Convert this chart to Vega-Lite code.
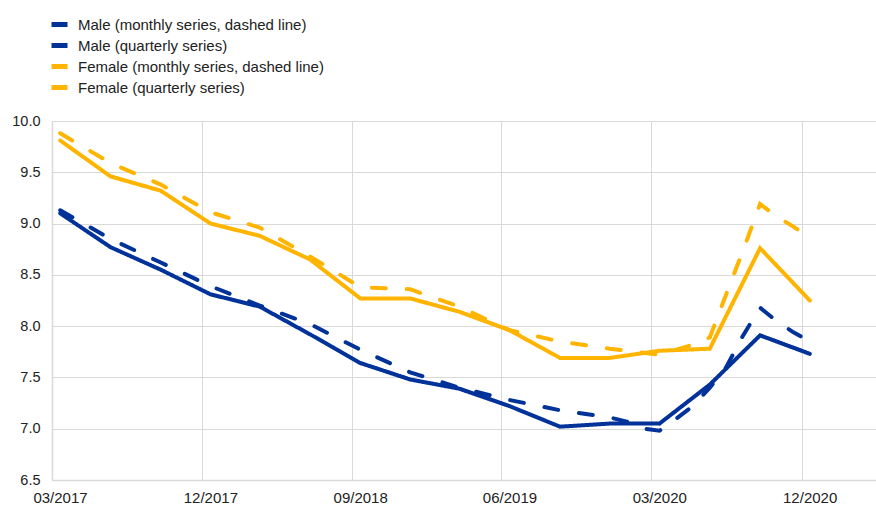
{
  "$schema": "https://vega.github.io/schema/vega-lite/v6.json",
  "width": 824,
  "height": 359,
  "autosize": {"type": "none"},
  "padding": {"left": 52, "top": 121, "right": 0, "bottom": 26},
  "background": "white",
  "config": {"view": {"stroke": null}, "font": "Liberation Sans"},
  "data": {
    "format": {"parse": {"date": "utc:'%Y-%m-%d'"}},
    "values": [
      {"date": "2017-03-16", "series": "Male (quarterly series)", "line": "solid", "value": 9.10},
      {"date": "2017-06-16", "series": "Male (quarterly series)", "line": "solid", "value": 8.77},
      {"date": "2017-09-16", "series": "Male (quarterly series)", "line": "solid", "value": 8.55},
      {"date": "2017-12-16", "series": "Male (quarterly series)", "line": "solid", "value": 8.31},
      {"date": "2018-03-16", "series": "Male (quarterly series)", "line": "solid", "value": 8.19},
      {"date": "2018-06-16", "series": "Male (quarterly series)", "line": "solid", "value": 7.92},
      {"date": "2018-09-16", "series": "Male (quarterly series)", "line": "solid", "value": 7.64},
      {"date": "2018-12-16", "series": "Male (quarterly series)", "line": "solid", "value": 7.48},
      {"date": "2019-03-16", "series": "Male (quarterly series)", "line": "solid", "value": 7.39},
      {"date": "2019-06-16", "series": "Male (quarterly series)", "line": "solid", "value": 7.22},
      {"date": "2019-09-16", "series": "Male (quarterly series)", "line": "solid", "value": 7.02},
      {"date": "2019-12-16", "series": "Male (quarterly series)", "line": "solid", "value": 7.05},
      {"date": "2020-03-16", "series": "Male (quarterly series)", "line": "solid", "value": 7.05},
      {"date": "2020-06-16", "series": "Male (quarterly series)", "line": "solid", "value": 7.43},
      {"date": "2020-09-16", "series": "Male (quarterly series)", "line": "solid", "value": 7.91},
      {"date": "2020-12-16", "series": "Male (quarterly series)", "line": "solid", "value": 7.73},

      {"date": "2017-03-16", "series": "Female (quarterly series)", "line": "solid", "value": 9.81},
      {"date": "2017-06-16", "series": "Female (quarterly series)", "line": "solid", "value": 9.46},
      {"date": "2017-09-16", "series": "Female (quarterly series)", "line": "solid", "value": 9.32},
      {"date": "2017-12-16", "series": "Female (quarterly series)", "line": "solid", "value": 9.00},
      {"date": "2018-03-16", "series": "Female (quarterly series)", "line": "solid", "value": 8.88},
      {"date": "2018-06-16", "series": "Female (quarterly series)", "line": "solid", "value": 8.65},
      {"date": "2018-09-16", "series": "Female (quarterly series)", "line": "solid", "value": 8.27},
      {"date": "2018-12-16", "series": "Female (quarterly series)", "line": "solid", "value": 8.27},
      {"date": "2019-03-16", "series": "Female (quarterly series)", "line": "solid", "value": 8.14},
      {"date": "2019-06-16", "series": "Female (quarterly series)", "line": "solid", "value": 7.96},
      {"date": "2019-09-16", "series": "Female (quarterly series)", "line": "solid", "value": 7.69},
      {"date": "2019-12-16", "series": "Female (quarterly series)", "line": "solid", "value": 7.69},
      {"date": "2020-03-16", "series": "Female (quarterly series)", "line": "solid", "value": 7.76},
      {"date": "2020-06-16", "series": "Female (quarterly series)", "line": "solid", "value": 7.78},
      {"date": "2020-09-16", "series": "Female (quarterly series)", "line": "solid", "value": 8.76},
      {"date": "2020-12-16", "series": "Female (quarterly series)", "line": "solid", "value": 8.25},

      {"date": "2017-03-16", "series": "Male (monthly series, dashed line)", "line": "dashed", "value": 9.13},
      {"date": "2017-06-16", "series": "Male (monthly series, dashed line)", "line": "dashed", "value": 8.85},
      {"date": "2017-09-16", "series": "Male (monthly series, dashed line)", "line": "dashed", "value": 8.62},
      {"date": "2017-12-16", "series": "Male (monthly series, dashed line)", "line": "dashed", "value": 8.39},
      {"date": "2018-03-16", "series": "Male (monthly series, dashed line)", "line": "dashed", "value": 8.20},
      {"date": "2018-06-16", "series": "Male (monthly series, dashed line)", "line": "dashed", "value": 8.02},
      {"date": "2018-09-16", "series": "Male (monthly series, dashed line)", "line": "dashed", "value": 7.77},
      {"date": "2018-12-16", "series": "Male (monthly series, dashed line)", "line": "dashed", "value": 7.55},
      {"date": "2019-03-16", "series": "Male (monthly series, dashed line)", "line": "dashed", "value": 7.40},
      {"date": "2019-06-16", "series": "Male (monthly series, dashed line)", "line": "dashed", "value": 7.28},
      {"date": "2019-09-16", "series": "Male (monthly series, dashed line)", "line": "dashed", "value": 7.18},
      {"date": "2019-12-16", "series": "Male (monthly series, dashed line)", "line": "dashed", "value": 7.11},
      {"date": "2020-01-16", "series": "Male (monthly series, dashed line)", "line": "dashed", "value": 7.07},
      {"date": "2020-02-16", "series": "Male (monthly series, dashed line)", "line": "dashed", "value": 7.00},
      {"date": "2020-03-16", "series": "Male (monthly series, dashed line)", "line": "dashed", "value": 6.98},
      {"date": "2020-04-16", "series": "Male (monthly series, dashed line)", "line": "dashed", "value": 7.10},
      {"date": "2020-05-16", "series": "Male (monthly series, dashed line)", "line": "dashed", "value": 7.22},
      {"date": "2020-06-16", "series": "Male (monthly series, dashed line)", "line": "dashed", "value": 7.40},
      {"date": "2020-07-16", "series": "Male (monthly series, dashed line)", "line": "dashed", "value": 7.60},
      {"date": "2020-08-16", "series": "Male (monthly series, dashed line)", "line": "dashed", "value": 7.91},
      {"date": "2020-09-16", "series": "Male (monthly series, dashed line)", "line": "dashed", "value": 8.18},
      {"date": "2020-10-16", "series": "Male (monthly series, dashed line)", "line": "dashed", "value": 8.05},
      {"date": "2020-11-16", "series": "Male (monthly series, dashed line)", "line": "dashed", "value": 7.94},
      {"date": "2020-12-16", "series": "Male (monthly series, dashed line)", "line": "dashed", "value": 7.85},

      {"date": "2017-03-16", "series": "Female (monthly series, dashed line)", "line": "dashed", "value": 9.88},
      {"date": "2017-06-16", "series": "Female (monthly series, dashed line)", "line": "dashed", "value": 9.59},
      {"date": "2017-09-16", "series": "Female (monthly series, dashed line)", "line": "dashed", "value": 9.38},
      {"date": "2017-12-16", "series": "Female (monthly series, dashed line)", "line": "dashed", "value": 9.11},
      {"date": "2018-03-16", "series": "Female (monthly series, dashed line)", "line": "dashed", "value": 8.96},
      {"date": "2018-06-16", "series": "Female (monthly series, dashed line)", "line": "dashed", "value": 8.68},
      {"date": "2018-09-16", "series": "Female (monthly series, dashed line)", "line": "dashed", "value": 8.38},
      {"date": "2018-12-16", "series": "Female (monthly series, dashed line)", "line": "dashed", "value": 8.36},
      {"date": "2019-03-16", "series": "Female (monthly series, dashed line)", "line": "dashed", "value": 8.19},
      {"date": "2019-06-16", "series": "Female (monthly series, dashed line)", "line": "dashed", "value": 7.96},
      {"date": "2019-09-16", "series": "Female (monthly series, dashed line)", "line": "dashed", "value": 7.85},
      {"date": "2019-12-16", "series": "Female (monthly series, dashed line)", "line": "dashed", "value": 7.78},
      {"date": "2020-01-16", "series": "Female (monthly series, dashed line)", "line": "dashed", "value": 7.76},
      {"date": "2020-02-16", "series": "Female (monthly series, dashed line)", "line": "dashed", "value": 7.74},
      {"date": "2020-03-16", "series": "Female (monthly series, dashed line)", "line": "dashed", "value": 7.72},
      {"date": "2020-04-16", "series": "Female (monthly series, dashed line)", "line": "dashed", "value": 7.77},
      {"date": "2020-05-16", "series": "Female (monthly series, dashed line)", "line": "dashed", "value": 7.82},
      {"date": "2020-06-16", "series": "Female (monthly series, dashed line)", "line": "dashed", "value": 7.89},
      {"date": "2020-07-16", "series": "Female (monthly series, dashed line)", "line": "dashed", "value": 8.31},
      {"date": "2020-08-16", "series": "Female (monthly series, dashed line)", "line": "dashed", "value": 8.74},
      {"date": "2020-09-16", "series": "Female (monthly series, dashed line)", "line": "dashed", "value": 9.19},
      {"date": "2020-10-16", "series": "Female (monthly series, dashed line)", "line": "dashed", "value": 9.07},
      {"date": "2020-11-16", "series": "Female (monthly series, dashed line)", "line": "dashed", "value": 8.97},
      {"date": "2020-12-16", "series": "Female (monthly series, dashed line)", "line": "dashed", "value": 8.86}
    ]
  },
  "mark": {"type": "line", "strokeWidth": 4, "strokeCap": "round", "strokeJoin": "miter"},
  "encoding": {
    "x": {
      "field": "date",
      "type": "temporal",
      "scale": {
        "type": "utc",
        "domain": [
          {"year": 2017, "month": 3, "date": 1, "utc": true},
          {"year": 2021, "month": 4, "date": 16, "utc": true}
        ]
      },
      "axis": {
        "title": null,
        "values": [
          {"year": 2017, "month": 3, "date": 1, "utc": true},
          {"year": 2017, "month": 12, "date": 1, "utc": true},
          {"year": 2018, "month": 9, "date": 1, "utc": true},
          {"year": 2019, "month": 6, "date": 1, "utc": true},
          {"year": 2020, "month": 3, "date": 1, "utc": true},
          {"year": 2020, "month": 12, "date": 1, "utc": true}
        ],
        "format": "%m/%Y",
        "grid": true,
        "gridColor": "#d9d9d9",
        "gridWidth": 1,
        "domainColor": "#d9d9d9",
        "domainWidth": 1.5,
        "ticks": false,
        "labelFontSize": 15,
        "labelColor": "#222222",
        "labelPadding": 10,
        "labelOffset": 8,
        "labelFlush": false,
        "labelOverlap": false
      }
    },
    "y": {
      "field": "value",
      "type": "quantitative",
      "scale": {"domain": [6.5, 10], "nice": false, "zero": false},
      "axis": {
        "title": null,
        "values": [6.5, 7, 7.5, 8, 8.5, 9, 9.5, 10],
        "format": ".1f",
        "grid": true,
        "gridColor": "#d9d9d9",
        "gridWidth": 1,
        "domainColor": "#d9d9d9",
        "domainWidth": 1.5,
        "ticks": false,
        "labelFontSize": 14.5,
        "labelColor": "#222222",
        "labelPadding": 12
      }
    },
    "color": {
      "field": "series",
      "type": "nominal",
      "scale": {
        "domain": [
          "Male (monthly series, dashed line)",
          "Male (quarterly series)",
          "Female (monthly series, dashed line)",
          "Female (quarterly series)"
        ],
        "range": ["#003299", "#003299", "#FFB400", "#FFB400"]
      },
      "legend": {
        "title": null,
        "orient": "none",
        "legendX": -3,
        "legendY": -107,
        "padding": 0,
        "symbolType": "stroke",
        "symbolSize": 256,
        "symbolStrokeWidth": 5,
        "symbolDash": [1, 0],
        "labelFontSize": 15,
        "labelColor": "#222222",
        "labelOffset": 8,
        "rowPadding": 0,
        "labelLimit": 400
      }
    },
    "strokeDash": {
      "field": "line",
      "type": "nominal",
      "scale": {"domain": ["solid", "dashed"], "range": [[1, 0], [14, 21]]},
      "legend": null
    }
  }
}
